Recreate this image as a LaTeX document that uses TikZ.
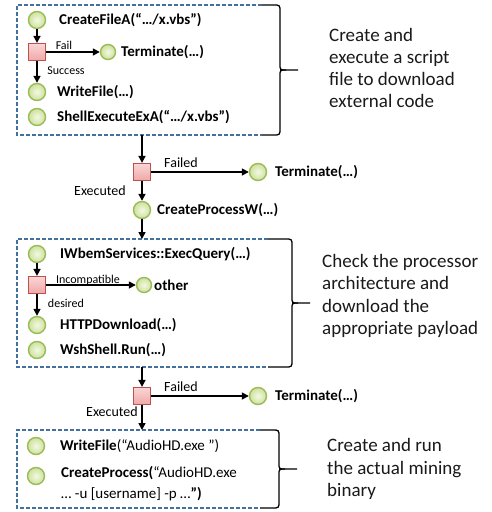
\documentclass[tikz,border=0pt]{standalone}
\usepackage{fontspec}
\setmainfont{Carlito}
\usetikzlibrary{arrows.meta}

\definecolor{stepgreen}{HTML}{9BBB59}
\definecolor{stepfillin}{HTML}{F3F8E4}
\definecolor{stepfillout}{HTML}{CDE29B}
\definecolor{checkred}{HTML}{C0504D}
\definecolor{checktop}{HTML}{FAD6D6}
\definecolor{checkbottom}{HTML}{EFA7A7}
\definecolor{groupblue}{HTML}{41719C}
\definecolor{notegray}{HTML}{1A1A1A}

\tikzset{
  callnode/.style={circle, draw=stepgreen, line width=1.4pt,
    inner color=stepfillin, outer color=stepfillout,
    minimum size=17pt, inner sep=0pt},
  smallcall/.style={callnode, minimum size=15pt},
  checknode/.style={rectangle, draw=checkred, line width=1.2pt,
    top color=checktop, bottom color=checkbottom,
    minimum size=17pt, inner sep=0pt},
  calltext/.style={anchor=west, inner sep=0pt,
    font=\fontsize{15}{21}\selectfont\bfseries},
  plaincall/.style={anchor=west, inner sep=0pt, align=left,
    font=\fontsize{15}{21}\selectfont},
  branchlabel/.style={inner sep=0pt, font=\fontsize{12}{14}\selectfont},
  flowlabel/.style={inner sep=0pt, font=\fontsize{14}{16}\selectfont},
  flow/.style={line width=1.6pt, -{Triangle[length=7pt,width=7pt]}},
  groupline/.style={draw=groupblue, line width=1.2pt, dash pattern=on 4pt off 2pt},
  bracepen/.style={line width=1.3pt, black},
  notetext/.style={anchor=west, align=left, inner sep=0pt, text=notegray,
    font=\fontsize{19}{22.3}\selectfont}
}

% right-hand curly brace closing a dashed group:
% #1 start x, #2 x of the upright stroke, #3 top y, #4 bottom y
\newcommand{\groupbrace}[4]{%
  \draw[bracepen] (#1,#3) -- ({#2-7},#3) .. controls (#2,#3) .. (#2,{#3+7})
    -- (#2,{(#3+#4)/2-6}) .. controls (#2,{(#3+#4)/2}) .. ({#2+6},{(#3+#4)/2})
    -- ({#2+18},{(#3+#4)/2});
  \draw[bracepen] (#1,#4) -- ({#2-7},#4) .. controls (#2,#4) .. (#2,{#4-7})
    -- (#2,{(#3+#4)/2+6}) .. controls (#2,{(#3+#4)/2}) .. ({#2+6},{(#3+#4)/2});
}

\begin{document}
\begin{tikzpicture}[x=1pt,y=-1pt]
\useasboundingbox (0,0) rectangle (491,512);
\fill[white] (0,0) rectangle (491,512);

% ---------- group 1: script dropper ----------
\coordinate (g1nw) at (17,5);
\coordinate (g1se) at (262,135);
\draw[groupline] (g1se |- g1nw) -- (g1nw) -- (g1nw |- g1se) -- (g1se);
\groupbrace{262}{280}{5}{135}

\node[callnode]  (mkfile) at (37,20) {};
\node[calltext]  (mkfiletext) at (59,20) {CreateFileA(“…/x.vbs”)};
\node[checknode] (chkfile) at (37,52) {};
\node[smallcall] (endA) at (108,52) {};
\node[calltext]  (endAtext) at (121,52) {Terminate(…)};
\node[callnode]  (wrfile) at (37,92) {};
\node[calltext]  (wrfiletext) at (57,92) {WriteFile(…)};
\node[callnode]  (shexec) at (37,117) {};
\node[calltext]  (shexectext) at (57,117) {ShellExecuteExA(“…/x.vbs”)};

\node[branchlabel] (failA) at (64,45) {Fail};
\node[branchlabel] (succA) at (66,71) {Success};

\draw[flow] (mkfile) -- (chkfile);
\draw[flow] (chkfile) -- (endA);
\draw[flow] (chkfile) -- (wrfile);

\node[notetext] (note1) at (329,68) {Create and\\execute a script\\file to download\\external code};

% ---------- script execution check ----------
\node[checknode] (chkexec1) at (142,172) {};
\node[callnode]  (endB) at (258,172) {};
\node[calltext]  (endBtext) at (275,172) {Terminate(…)};
\node[callnode]  (cproc) at (142,210) {};
\node[calltext]  (cproctext) at (157,210) {CreateProcessW(…)};
\node[flowlabel] (failB) at (181,163) {Failed};
\node[flowlabel] (execB) at (100,191) {Executed};

% ---------- group 2: architecture check ----------
\coordinate (g2nw) at (17,239);
\coordinate (g2se) at (268,367);
\draw[groupline] (g2se |- g2nw) -- (g2nw) -- (g2nw |- g2se) -- (g2se);
\groupbrace{268}{292}{239}{367}

\draw[flow] (chkexec1 |- g1se) -- (chkexec1);
\draw[flow] (chkexec1) -- (endB);
\draw[flow] (chkexec1) -- (cproc);
\draw[flow] (cproc) -- (cproc |- g2nw);

\node[callnode]  (wmiq) at (37,254) {};
\node[calltext]  (wmiqtext) at (60,254) {IWbemServices::ExecQuery(…)};
\node[checknode] (chkarch) at (37,285) {};
\node[smallcall] (other) at (144,285) {};
\node[calltext]  (othertext) at (154,285) {other};
\node[callnode]  (httpdl) at (37,325) {};
\node[calltext]  (httpdltext) at (60,325) {HTTPDownload(…)};
\node[callnode]  (wshrun) at (37,350) {};
\node[calltext]  (wshruntext) at (60,350) {WshShell.Run(…)};

\node[branchlabel] (incompat) at (88,280) {Incompatible};
\node[branchlabel] (desired) at (66,303) {desired};

\draw[flow] (wmiq) -- (chkarch);
\draw[flow] (chkarch) -- (other);
\draw[flow] (chkarch) -- (httpdl);

\node[notetext] (note2) at (322,296) {Check the processor\\architecture and\\download the\\appropriate payload};

% ---------- payload execution check ----------
\node[checknode] (chkexec2) at (142,396) {};
\node[callnode]  (endC) at (258,396) {};
\node[calltext]  (endCtext) at (275,396) {Terminate(…)};
\node[flowlabel] (failC) at (181,387) {Failed};
\node[flowlabel] (execC) at (112,412) {Executed};

% ---------- group 3: miner launch ----------
\coordinate (g3nw) at (17,430);
\coordinate (g3se) at (260,508);
\draw[groupline] (g3se |- g3nw) -- (g3nw) -- (g3nw |- g3se) -- (g3se);
\groupbrace{260}{279}{430}{508}

\draw[flow] (chkexec2 |- g2se) -- (chkexec2);
\draw[flow] (chkexec2) -- (endC);
\draw[flow] (chkexec2) -- (chkexec2 |- g3nw);

\node[callnode]  (wrexe) at (36,446) {};
\node[plaincall] (wrexetext) at (60,446) {\textbf{WriteFile}(“AudioHD.exe ”)};
\node[callnode]  (runexe) at (36,476) {};
\node[plaincall] (runexetext) at (61,483.5) {\textbf{CreateProcess(}“AudioHD.exe\\… -u [username] -p …\textbf{”)}};

\node[notetext] (note3) at (327,469) {Create and run\\the actual mining\\binary};

\end{tikzpicture}
\end{document}
